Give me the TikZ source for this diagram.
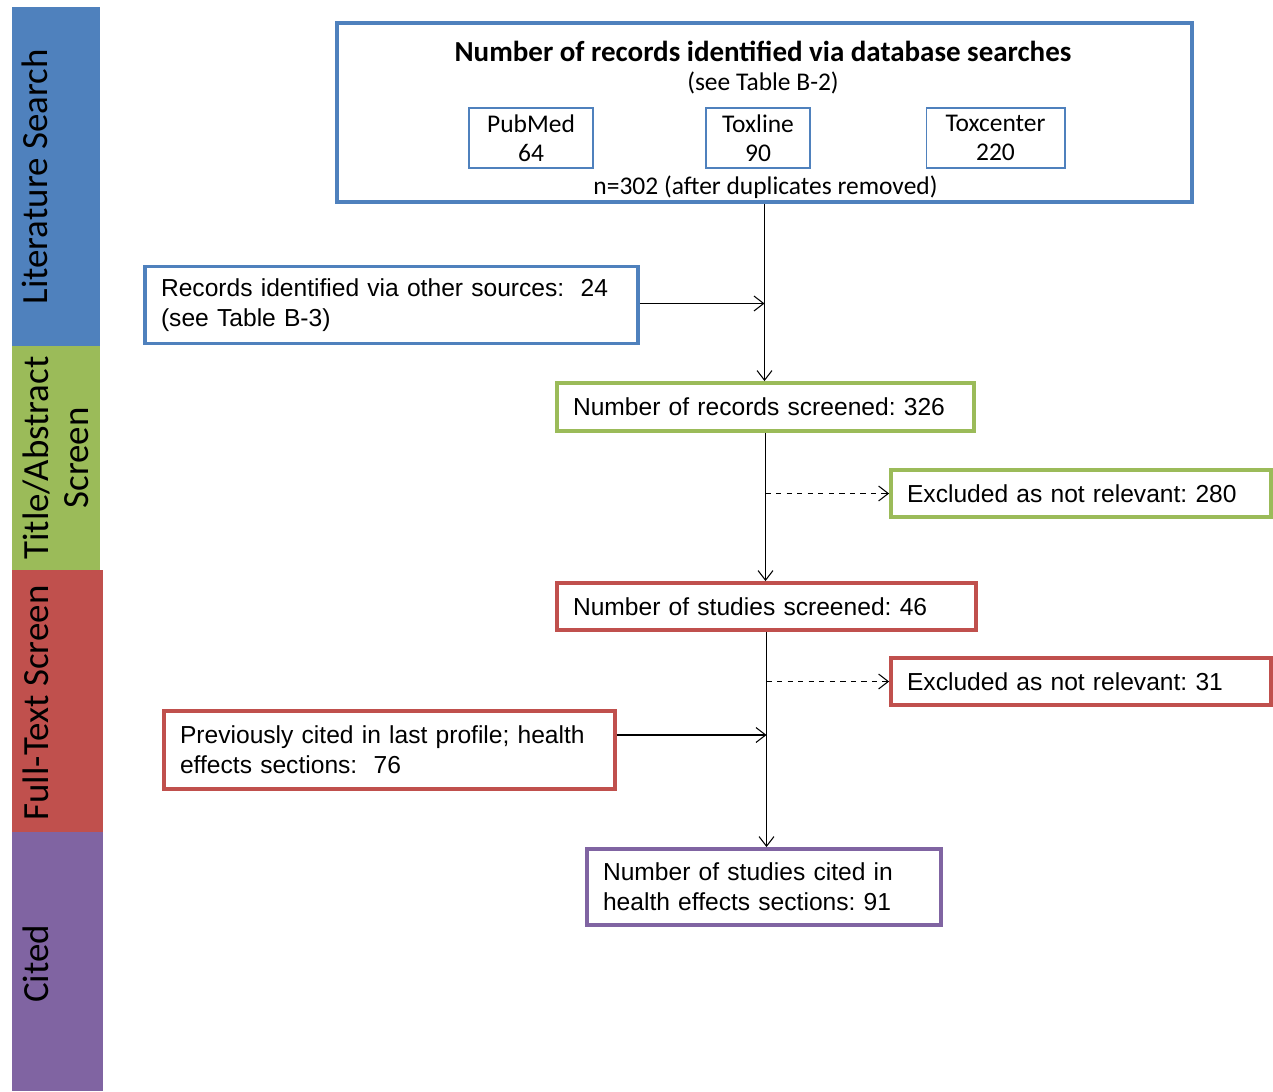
\documentclass[tikz,border=0pt]{standalone}
\usepackage{fontspec}
\setmainfont{Liberation Sans}
\newfontfamily\calibri{Carlito}
\usetikzlibrary{arrows.meta}
\frenchspacing

\definecolor{litblue}{HTML}{4F81BD}
\definecolor{absgreen}{HTML}{9BBB59}
\definecolor{fullred}{HTML}{C0504D}
\definecolor{citedpurple}{HTML}{8064A2}

\begin{document}
\begin{tikzpicture}[x=0.02cm, y=-0.02cm,
  >={Straight Barb[length=5.5pt,width=8.5pt]},
  band/.style={rectangle, inner sep=0pt},
  bandtext/.style={rotate=90, font=\calibri\fontsize{21}{23}\selectfont, align=center},
  flowbox/.style={rectangle, draw, line width=2.2pt, fill=white, inner xsep=0.32cm, inner ysep=0pt,
    align=left, font=\fontsize{14}{17}\selectfont},
  dbbox/.style={rectangle, draw=litblue, line width=0.6pt, align=center, inner sep=0pt,
    minimum height=1.2cm, font=\calibri\fontsize{14.5}{16.5}\selectfont},
  link/.style={->, line width=0.6pt},
  skip/.style={->, dashed, line width=0.6pt}]
\useasboundingbox (0,0) rectangle (1273,1091);

% stage bands on the left
\node (litband) at (56,176.5) [band, fill=litblue, minimum width=1.76cm, minimum height=6.78cm] {};
\node (absband) at (56,458) [band, fill=absgreen, minimum width=1.76cm, minimum height=4.48cm] {};
\node (fullband) at (57.5,701) [band, fill=fullred, minimum width=1.82cm, minimum height=5.24cm] {};
\node (citeband) at (57.5,961.5) [band, fill=citedpurple, minimum width=1.82cm, minimum height=5.18cm] {};

\node (littext) at (35,177) [bandtext] {Literature Search};
\node (abstext) at (56,458) [bandtext] {Title/Abstract\\Screen};
\node (fulltext) at (36,703) [bandtext] {Full-Text Screen};
\node (citetext) at (36,964) [bandtext] {Cited};

% database searches
\node (top) at (764.5,112.5) [rectangle, draw=litblue, line width=2.3pt, minimum width=17.1cm, minimum height=3.58cm] {};
\node (toptitle) at (763,51) [font=\calibri\bfseries\fontsize{16.5}{18}\selectfont] {Number of records identified via database searches};
\node (topsub) at (763,83) [font=\calibri\fontsize{14.5}{16}\selectfont] {(see Table B-2)};
\node (pubmed) at (531,138) [dbbox, minimum width=2.48cm] {PubMed\\64};
\node (toxline) at (758,138) [dbbox, minimum width=2.08cm] {Toxline\\90};
\node (toxcenter) at (995.5,138) [dbbox, minimum width=2.78cm] {Toxcenter\\220};
\node (topn) at (765.5,187) [font=\calibri\fontsize{14.5}{16}\selectfont] {n=302 (after duplicates removed)};

% flow boxes
\node (other) at (391.5,305) [flowbox, draw=litblue, text width=9.22cm, minimum height=1.54cm]
  {Records identified via other sources:~~24\\(see Table B-3)};
\node (screened) at (765.5,407) [flowbox, draw=absgreen, text width=7.7cm, minimum height=0.96cm]
  {Number of records screened: 326};
\node (excl1) at (1081,493.5) [flowbox, draw=absgreen, text width=6.96cm, minimum height=0.94cm]
  {Excluded as not relevant: 280};
\node (studies) at (766.5,606.5) [flowbox, draw=fullred, text width=7.74cm, minimum height=0.94cm]
  {Number of studies screened: 46};
\node (excl2) at (1081,681.5) [flowbox, draw=fullred, text width=6.96cm, minimum height=0.94cm]
  {Excluded as not relevant: 31};
\node (prev) at (389.5,750) [flowbox, draw=fullred, text width=8.38cm, minimum height=1.56cm]
  {Previously cited in last profile; health\\effects sections:~~76};
\node (cited) at (764,887) [flowbox, draw=citedpurple, text width=6.44cm, minimum height=1.52cm]
  {Number of studies cited in\\health effects sections: 91};

% connectors
\draw[link] (top.south) -- (top.south |- screened.north);
\draw[link] ([yshift=0.03cm]other.east) -- ([yshift=0.03cm]other.east -| top.south);
\draw[link] (screened.south) -- (screened.south |- studies.north);
\draw[skip] (screened.south |- excl1.west) -- (excl1.west);
\draw[link] (studies.south) -- (studies.south |- cited.north);
\draw[skip] (studies.south |- excl2.west) -- (excl2.west);
\draw[link] ([yshift=0.3cm]prev.east) -- ([yshift=0.3cm]prev.east -| studies.south);
\end{tikzpicture}
\end{document}
